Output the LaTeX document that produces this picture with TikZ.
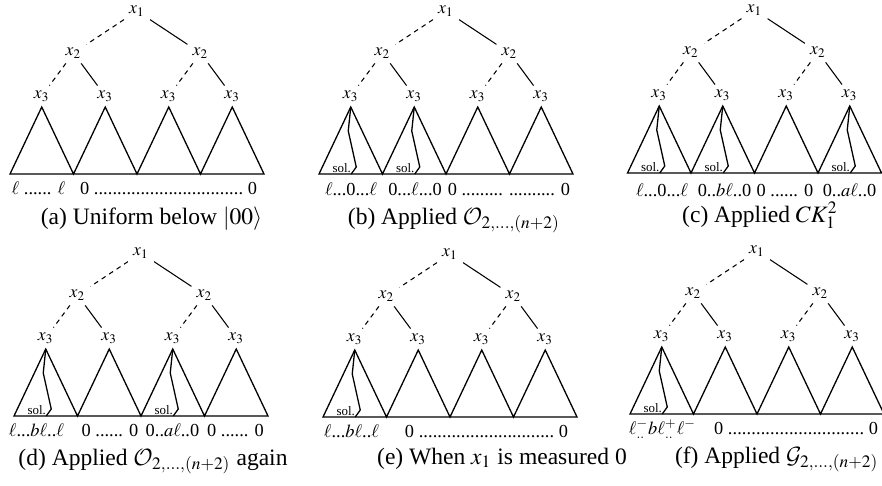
\documentclass[tikz,border=0pt]{standalone}
\usepackage{amsmath,amssymb}
\usepackage{mathptmx}
\usepackage{fontspec}
\setmainfont{Liberation Serif}
\DeclareMathAlphabet{\mathcal}{OMS}{cmsy}{m}{n}
\usepackage{tikz}
\usetikzlibrary{calc}

\tikzset{
  var/.style={inner sep=0.8pt, font=\fontsize{7.5}{9}\selectfont},
  link/.style={line width=0.45pt, shorten <=1.5pt, shorten >=1.5pt},
  dlink/.style={link, dash pattern=on 2pt off 1.8pt},
  tri/.style={line width=0.55pt, line join=miter},
  leaf/.style={inner sep=0pt, anchor=base, font=\fontsize{7.8}{9}\selectfont},
  soltag/.style={inner sep=0pt, font=\fontsize{5.5}{6}\selectfont},
  captext/.style={inner sep=0pt, anchor=base, font=\fontsize{10}{12}\selectfont},
}

% x_1, x_2, x_3 over four triangles; #1 name, (#2,#3) left end of the base
\newcommand{\qtree}[3]{%
  \foreach \k in {0,...,4} \coordinate (#1b\k) at ({#2+63.5*\k},#3);
  \foreach \k in {0,...,3} {
    \coordinate (#1t\k) at ({#2+63.5*\k+31.75},{#3-67});
    \node[var] (#1x3\k) at ({#2+63.5*\k+31.75},{#3-78}) {$x_3$};
  }
  \node[var] (#1x2l) at ({#2+63.5},{#3-121}) {$x_2$};
  \node[var] (#1x2r) at ({#2+190.5},{#3-121}) {$x_2$};
  \node[var] (#1x1) at ({#2+127},{#3-163}) {$x_1$};
  \draw[dlink] (#1x1) -- (#1x2l);
  \draw[link] (#1x1) -- (#1x2r);
  \draw[dlink] (#1x2l) -- (#1x30);
  \draw[link] (#1x2l) -- (#1x31);
  \draw[dlink] (#1x2r) -- (#1x32);
  \draw[link] (#1x2r) -- (#1x33);
  \draw[tri] (#1b0) -- (#1t0) -- (#1b1) -- (#1t1) -- (#1b2) -- (#1t2)
    -- (#1b3) -- (#1t3) -- (#1b4) -- cycle;
}
% path of the solution inside one triangle; #1 apex
\newcommand{\solpath}[1]{%
  \draw[tri] (#1) -- ++(-2.5,24) -- ++(8,36) -- ++(-5,7);
  \node[soltag] (#1s) at ($(#1)+(-9,61)$) {sol.};
}
\newcommand{\zerorun}[1]{\hbox to #1{0\ \xleaders\hbox{.}\hfill\ 0}}

\begin{document}
\begin{tikzpicture}[x=0.425pt, y=-0.425pt]
\useasboundingbox (0,0) rectangle (882,485);

% (a)
\qtree{a}{10}{174}
\node[leaf] (al0) at (38.5,194) {$\ell$ ...... $\ell$};
\node[leaf] (al1) at (168.5,194) {\zerorun{75.2pt}};
\node[captext] (acap) at (151.5,224) {(a) Uniform below $|00\rangle$};

% (b)
\qtree{b}{319}{174}
\solpath{bt0}
\solpath{bt1}
\node[leaf] (bl0) at (351,195) {$\ell$...0...$\ell$};
\node[leaf] (bl1) at (415,195) {0...$\ell$...0};
\node[leaf] (bl2) at (509,195) {0 ......... .......... 0};
\node[captext] (bcap) at (454,224) {(b) Applied $\mathcal{O}_{2,\ldots,(n+2)}$};

% (c)
\qtree{c}{627.5}{173}
\solpath{ct0}
\solpath{ct1}
\solpath{ct3}
\node[leaf] (cl0) at (662,196) {$\ell$...0...$\ell$};
\node[leaf] (cl1) at (724.5,196) {0..$b\ell$..0};
\node[leaf] (cl2) at (785,196) {0 ...... 0};
\node[leaf] (cl3) at (849.5,196) {0..$a\ell$..0};
\node[captext] (ccap) at (760,222) {(c) Applied $CK_1^2$};

% (d)
\qtree{d}{14}{416}
\solpath{dt0}
\solpath{dt2}
\node[leaf] (dl0) at (36.5,436) {$\ell$...$b\ell$..$\ell$};
\node[leaf] (dl1) at (110,436) {0 ...... 0};
\node[leaf] (dl2) at (172.5,436) {0..$a\ell$..0};
\node[leaf] (dl3) at (235.5,436) {0 ...... 0};
\node[captext] (dcap) at (153,465) {(d) Applied $\mathcal{O}_{2,\ldots,(n+2)}$ again};

% (e)
\qtree{e}{323}{417}
\solpath{et0}
\node[leaf] (el0) at (351.5,437) {$\ell$...$b\ell$..$\ell$};
\node[leaf] (el1) at (486.5,437) {\zerorun{69.3pt}};
\node[captext] (ecap) at (502,464) {(e) When $x_1$ is measured 0};

% (f)
\qtree{f}{630}{414}
\solpath{ft0}
\node[leaf] (fl0) at (662.5,434) {$\ell^-_{..}b\ell^+_{..}\ell^-$};
\node[leaf] (fl1) at (796,434) {\zerorun{69.7pt}};
\node[captext, anchor=base east] (fcap) at (879,463) {(f) Applied $\mathcal{G}_{2,\ldots,(n+2)}$};
\end{tikzpicture}
\end{document}
